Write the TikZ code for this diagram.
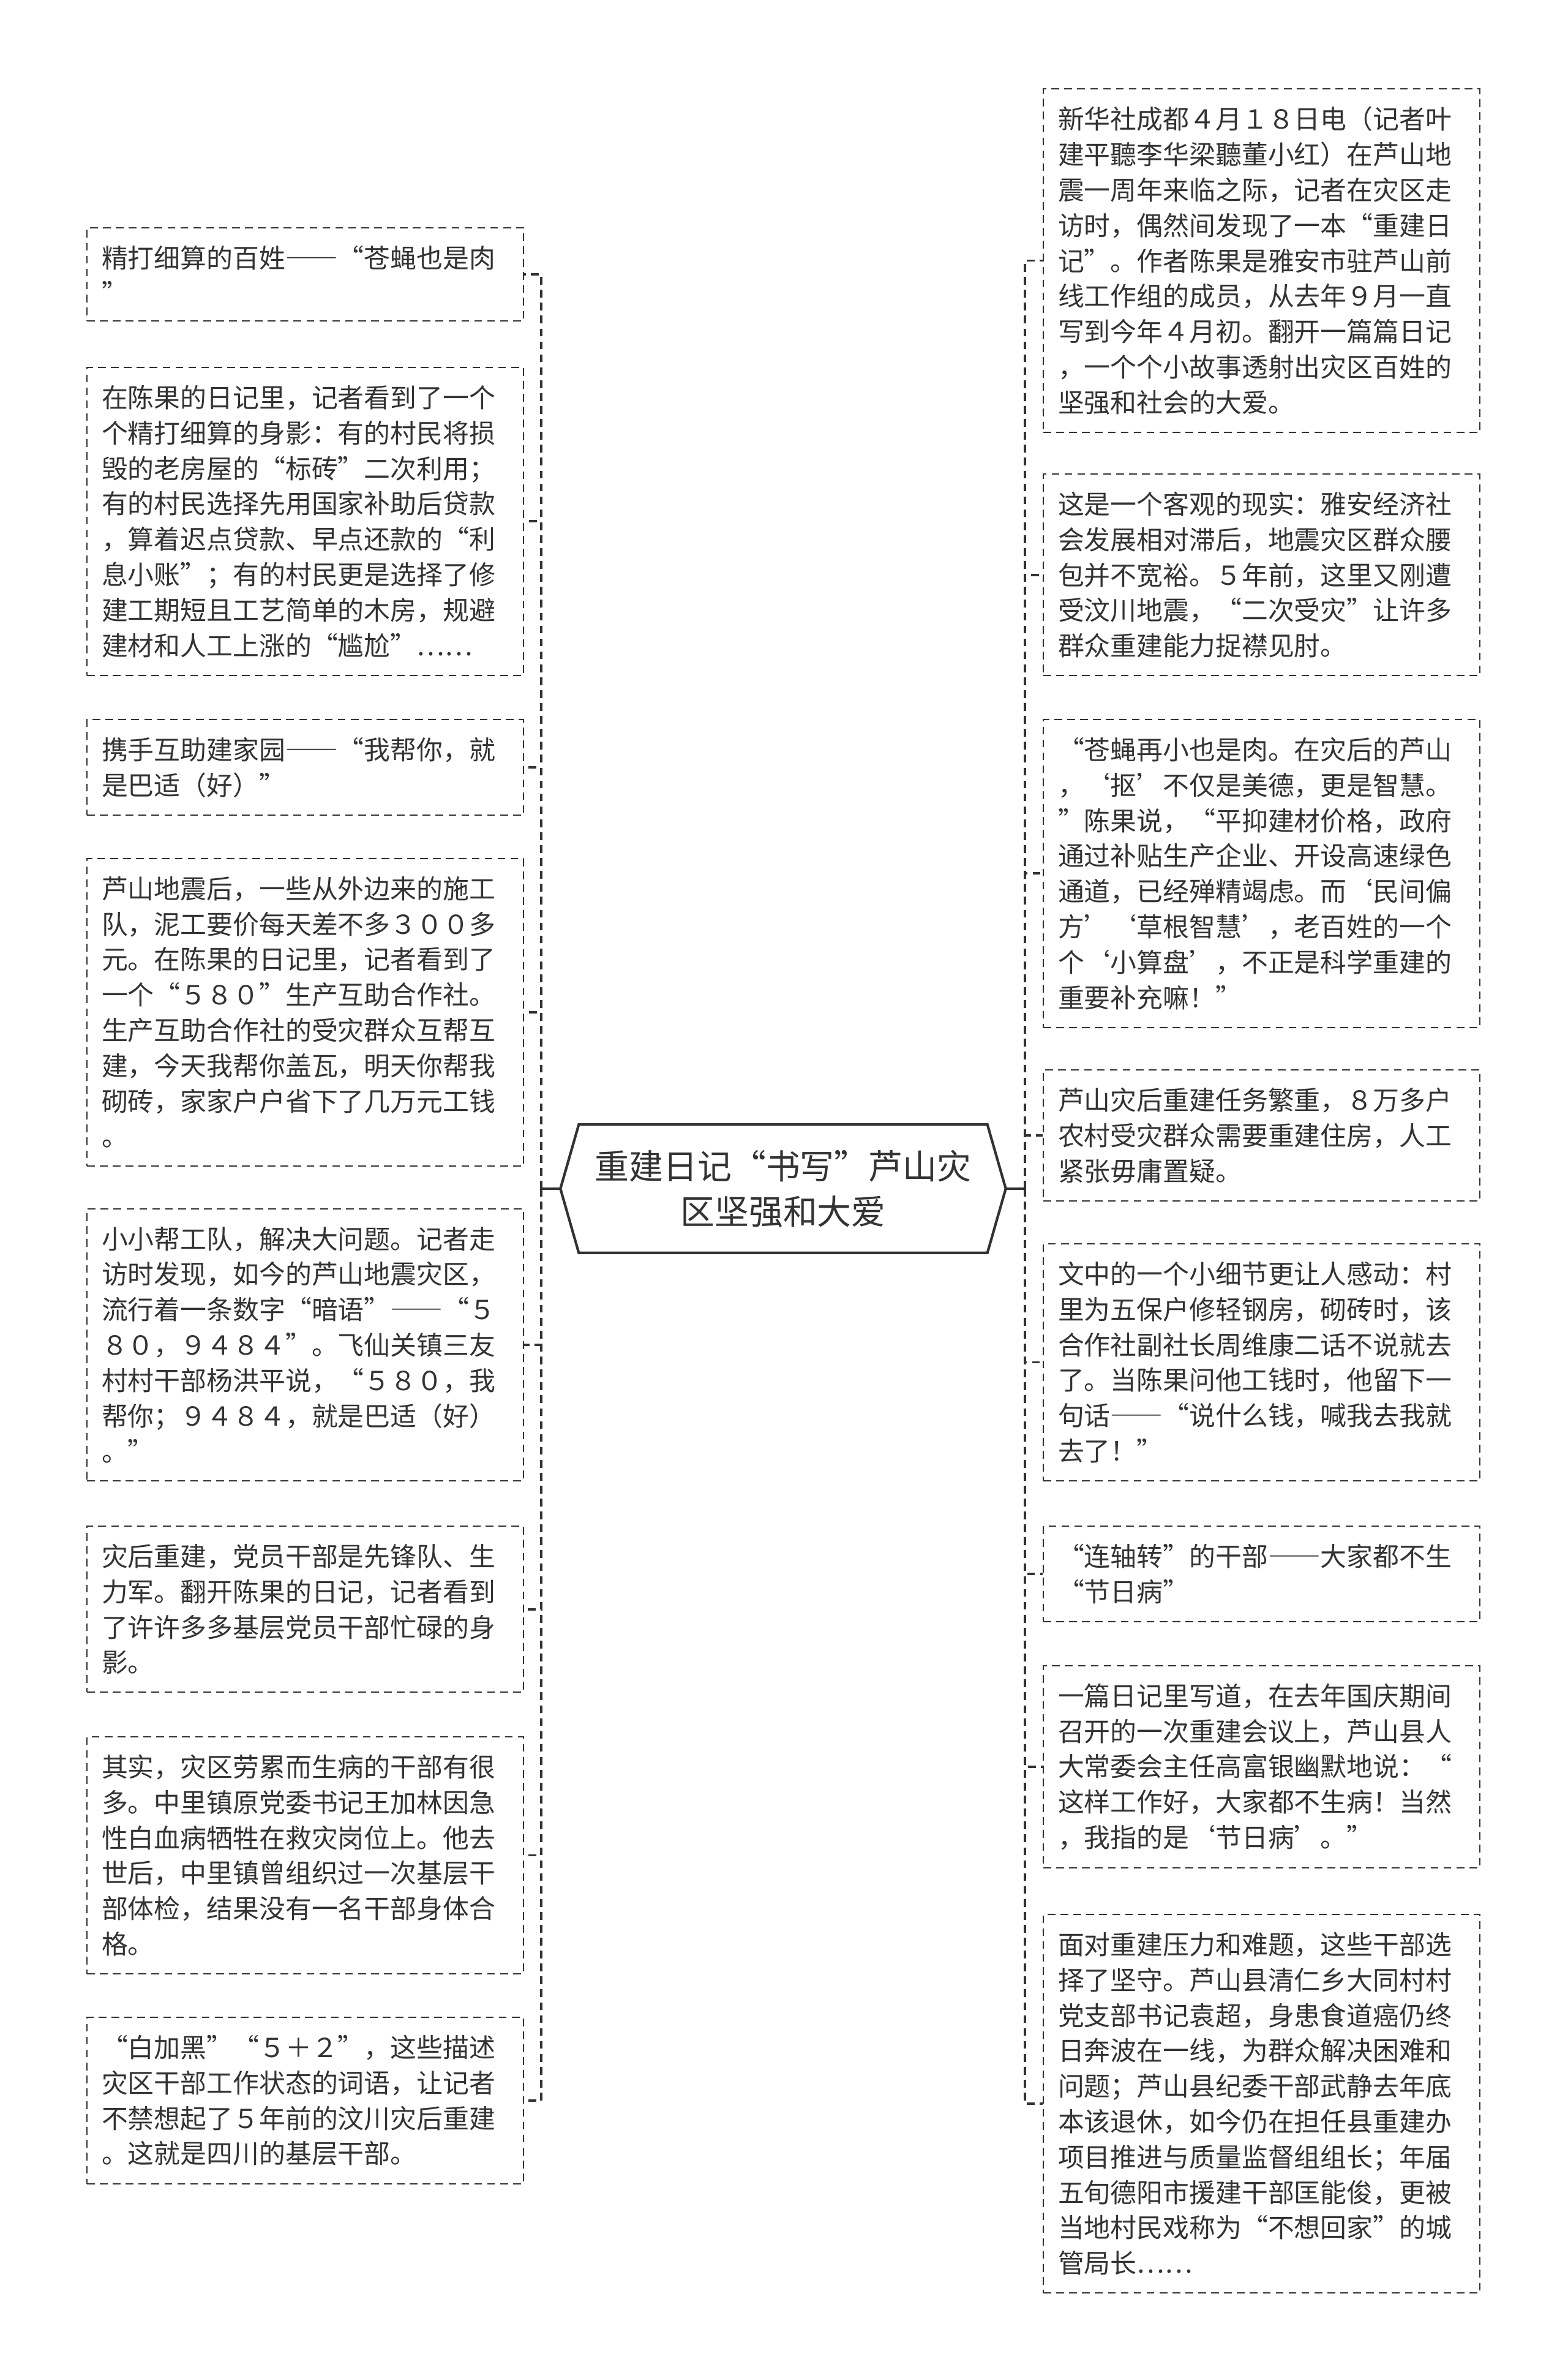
\documentclass[tikz,border=0pt]{standalone}
\usepackage{fontspec}
\setmainfont{Noto Sans CJK SC}[RawFeature=+fwid]
\usetikzlibrary{positioning}
\definecolor{inkgray}{HTML}{333333}
\tikzset{leaf node/.style={draw=inkgray,dash pattern=on 3.6pt off 2.4pt,line width=0.6pt,anchor=north west,text width=6.65cm,inner xsep=0.24cm,inner ysep=0.29cm,align=left,text=inkgray,font=\fontsize{12.2pt}{16.45pt}\selectfont}}
\tikzset{hub node/.style={minimum width=7.26cm,minimum height=2.08cm,inner sep=0pt,align=center,text=inkgray,font=\fontsize{15.9pt}{21pt}\selectfont}}
\tikzset{link/.style={draw=inkgray,dash pattern=on 3.6pt off 2.4pt,line width=1.1pt}}

\begin{document}
\begin{tikzpicture}

\path[fill=white,use as bounding box] (0,0) rectangle (25.6,-38.83);

% central topic
\node[hub node] (hub) at (12.79,-19.41) {重建日记“书写”芦山灾\\区坚强和大爱};
\draw[line width=1.2pt,inkgray] (hub.west) -- ([xshift=0.3cm]hub.north west) -- ([xshift=-0.3cm]hub.north east) -- (hub.east) -- ([xshift=-0.3cm]hub.south east) -- ([xshift=0.3cm]hub.south west) -- cycle;

% left column
\node[leaf node] (L1) at (1.41,-3.71) {精打细算的百姓——“苍蝇也是肉\\”};
\node[leaf node] (L2) at (1.41,-5.99) {在陈果的日记里，记者看到了一个\\个精打细算的身影：有的村民将损\\毁的老房屋的“标砖”二次利用；\\有的村民选择先用国家补助后贷款\\，算着迟点贷款、早点还款的“利\\息小账”；有的村民更是选择了修\\建工期短且工艺简单的木房，规避\\建材和人工上涨的“尴尬”……};
\node[leaf node] (L3) at (1.41,-11.74) {携手互助建家园——“我帮你，就\\是巴适（好）”};
\node[leaf node] (L4) at (1.41,-14.01) {芦山地震后，一些从外边来的施工\\队，泥工要价每天差不多３００多\\元。在陈果的日记里，记者看到了\\一个“５８０”生产互助合作社。\\生产互助合作社的受灾群众互帮互\\建，今天我帮你盖瓦，明天你帮我\\砌砖，家家户户省下了几万元工钱\\。};
\node[leaf node] (L5) at (1.41,-19.73) {小小帮工队，解决大问题。记者走\\访时发现，如今的芦山地震灾区，\\流行着一条数字“暗语”——“５\\８０，９４８４”。飞仙关镇三友\\村村干部杨洪平说，“５８０，我\\帮你；９４８４，就是巴适（好）\\。”};
\node[leaf node] (L6) at (1.41,-24.91) {灾后重建，党员干部是先锋队、生\\力军。翻开陈果的日记，记者看到\\了许许多多基层党员干部忙碌的身\\影。};
\node[leaf node] (L7) at (1.41,-28.35) {其实，灾区劳累而生病的干部有很\\多。中里镇原党委书记王加林因急\\性白血病牺牲在救灾岗位上。他去\\世后，中里镇曾组织过一次基层干\\部体检，结果没有一名干部身体合\\格。};
\node[leaf node] (L8) at (1.41,-32.93) {“白加黑”“５＋２”，这些描述\\灾区干部工作状态的词语，让记者\\不禁想起了５年前的汶川灾后重建\\。这就是四川的基层干部。};

% right column
\node[leaf node] (R1) at (17.03,-1.44) {新华社成都４月１８日电（记者叶\\建平聽李华梁聽董小红）在芦山地\\震一周年来临之际，记者在灾区走\\访时，偶然间发现了一本“重建日\\记”。作者陈果是雅安市驻芦山前\\线工作组的成员，从去年９月一直\\写到今年４月初。翻开一篇篇日记\\，一个个小故事透射出灾区百姓的\\坚强和社会的大爱。};
\node[leaf node] (R2) at (17.03,-7.73) {这是一个客观的现实：雅安经济社\\会发展相对滞后，地震灾区群众腰\\包并不宽裕。５年前，这里又刚遭\\受汶川地震，“二次受灾”让许多\\群众重建能力捉襟见肘。};
\node[leaf node] (R3) at (17.03,-11.74) {“苍蝇再小也是肉。在灾后的芦山\\，‘抠’不仅是美德，更是智慧。\\”陈果说，“平抑建材价格，政府\\通过补贴生产企业、开设高速绿色\\通道，已经殚精竭虑。而‘民间偏\\方’‘草根智慧’，老百姓的一个\\个‘小算盘’，不正是科学重建的\\重要补充嘛！”};
\node[leaf node] (R4) at (17.03,-17.46) {芦山灾后重建任务繁重，８万多户\\农村受灾群众需要重建住房，人工\\紧张毋庸置疑。};
\node[leaf node] (R5) at (17.03,-20.30) {文中的一个小细节更让人感动：村\\里为五保户修轻钢房，砌砖时，该\\合作社副社长周维康二话不说就去\\了。当陈果问他工钱时，他留下一\\句话——“说什么钱，喊我去我就\\去了！”};
\node[leaf node] (R6) at (17.03,-24.91) {“连轴转”的干部——大家都不生\\“节日病”};
\node[leaf node] (R7) at (17.03,-27.19) {一篇日记里写道，在去年国庆期间\\召开的一次重建会议上，芦山县人\\大常委会主任高富银幽默地说：“\\这样工作好，大家都不生病！当然\\，我指的是‘节日病’。”};
\node[leaf node] (R8) at (17.03,-31.25) {面对重建压力和难题，这些干部选\\择了坚守。芦山县清仁乡大同村村\\党支部书记袁超，身患食道癌仍终\\日奔波在一线，为群众解决困难和\\问题；芦山县纪委干部武静去年底\\本该退休，如今仍在担任县重建办\\项目推进与质量监督组组长；年届\\五旬德阳市援建干部匡能俊，更被\\当地村民戏称为“不想回家”的城\\管局长……};

% connectors
\coordinate (busL) at (8.84,-19.41);
\coordinate (busR) at (16.74,-19.41);
\draw[line width=1.1pt,inkgray] (hub.west) -- (busL);
\draw[line width=1.1pt,inkgray] (hub.east) -- (busR);
\foreach \n in {1,...,8}{
    \draw[link] (busL) |- (L\n.east);
    \draw[link] (busR) |- (R\n.west);
}

\end{tikzpicture}
\end{document}
